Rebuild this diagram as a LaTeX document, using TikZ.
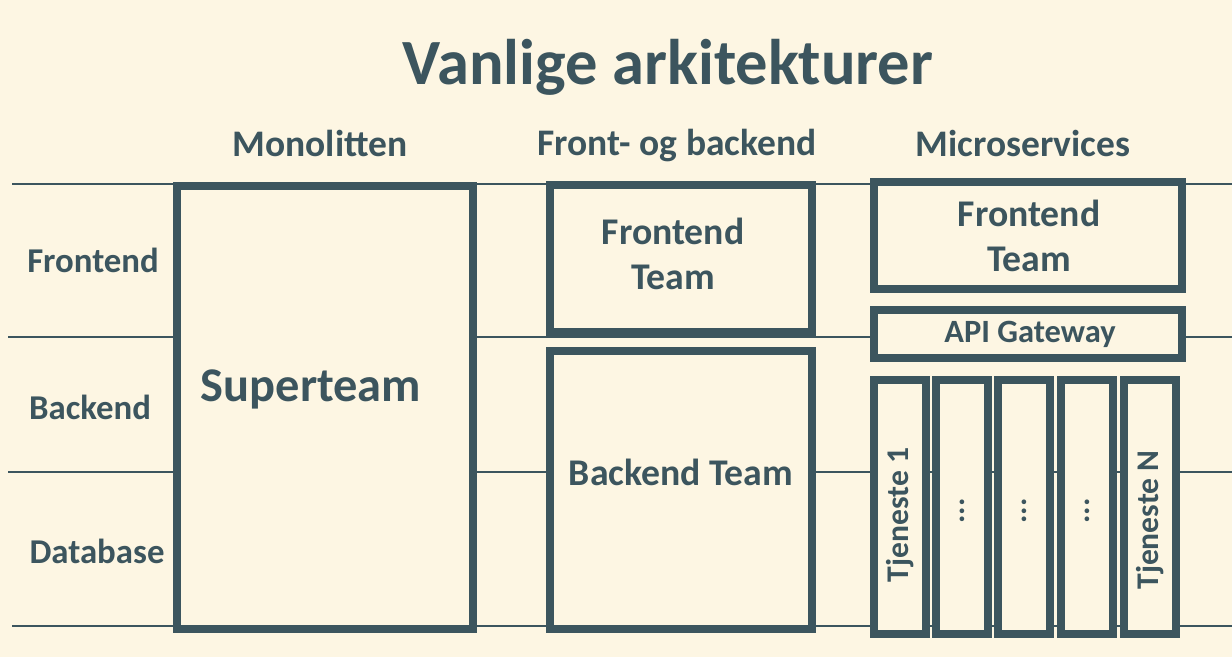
\documentclass[tikz,border=0pt]{standalone}
\usepackage{fontspec}
\setmainfont{Carlito}
\definecolor{ink}{HTML}{3C555E}
\definecolor{paper}{HTML}{FDF6E3}
\newcommand{\fs}[1]{\fontsize{#1}{1.18\dimexpr#1pt\relax}\selectfont\bfseries}

\begin{document}
\begin{tikzpicture}[x=1pt,y=-1pt,
    box/.style={draw=ink,line width=8pt,fill=paper,inner sep=0pt,outer sep=0pt},
    txt/.style={text=ink,inner sep=0pt,align=center},
    rule/.style={draw=ink,line width=1.3pt}]
    \fill[paper] (0,0) rectangle (1232,657);
    \useasboundingbox (0,0) rectangle (1232,657);

    % row rules
    \draw[rule] (12,184) -- (1232,184);
    \draw[rule] (8,337) -- (1232,337);
    \draw[rule] (8,472) -- (1232,472);
    \draw[rule] (12,626) -- (1232,626);

    \node[txt,font=\fs{64.5}] (title) at (668,67) {Vanlige arkitekturer};

    \node[txt,font=\fs{37.5}] (mono head) at (320,143) {Monolitten};
    \node[txt,font=\fs{37.5}] (fb head) at (677,146) {Front- og backend};
    \node[txt,font=\fs{37.5}] (ms head) at (1023,143) {Microservices};

    \node[txt,font=\fs{34.8}] (row fe) at (93,260) {Frontend};
    \node[txt,font=\fs{34.8}] (row be) at (90,407) {Backend};
    \node[txt,font=\fs{34.8}] (row db) at (97,551) {Database};

    % monolitten
    \node[box,minimum width=296,minimum height=443] (mono) at (325,407.5) {};
    \node[txt,font=\fs{48.4}] (super) at (311,389) {Superteam};

    % front- og backend
    \node[box,minimum width=262,minimum height=147] (fb fe) at (681,258.5) {};
    \node[txt,font=\fs{37.7}] (fb fe txt) at (673,254) {Frontend\\Team};
    \node[box,minimum width=262,minimum height=278] (fb be) at (681,490) {};
    \node[txt,font=\fs{37.7}] (fb be txt) at (681,472) {Backend Team};

    % microservices
    \node[box,minimum width=308,minimum height=107] (ms fe) at (1028,235.5) {};
    \node[txt,font=\fs{37.7}] (ms fe txt) at (1029,236) {Frontend\\Team};
    \node[box,minimum width=308,minimum height=48] (api) at (1028,334) {};
    \node[txt,font=\fs{32.5}] (api txt) at (1030,334) {API Gateway};

    \node[box,minimum width=52,minimum height=254] (svc1) at (900,507) {};
    \node[box,minimum width=52,minimum height=254] (svc2) at (962,507) {};
    \node[box,minimum width=52,minimum height=254] (svc3) at (1024,507) {};
    \node[box,minimum width=52,minimum height=254] (svc4) at (1087,507) {};
    \node[box,minimum width=52,minimum height=254] (svcn) at (1150,507) {};
    \node[txt,font=\fs{31.6},rotate=90] (svc1 txt) at (900,515) {Tjeneste 1};
    \node[txt,font=\fs{31.6},rotate=90] (svc2 txt) at (962,511) {...};
    \node[txt,font=\fs{31.6},rotate=90] (svc3 txt) at (1024,511) {...};
    \node[txt,font=\fs{31.6},rotate=90] (svc4 txt) at (1087,511) {...};
    \node[txt,font=\fs{31.6},rotate=90] (svcn txt) at (1150,520) {Tjeneste N};
\end{tikzpicture}
\end{document}
